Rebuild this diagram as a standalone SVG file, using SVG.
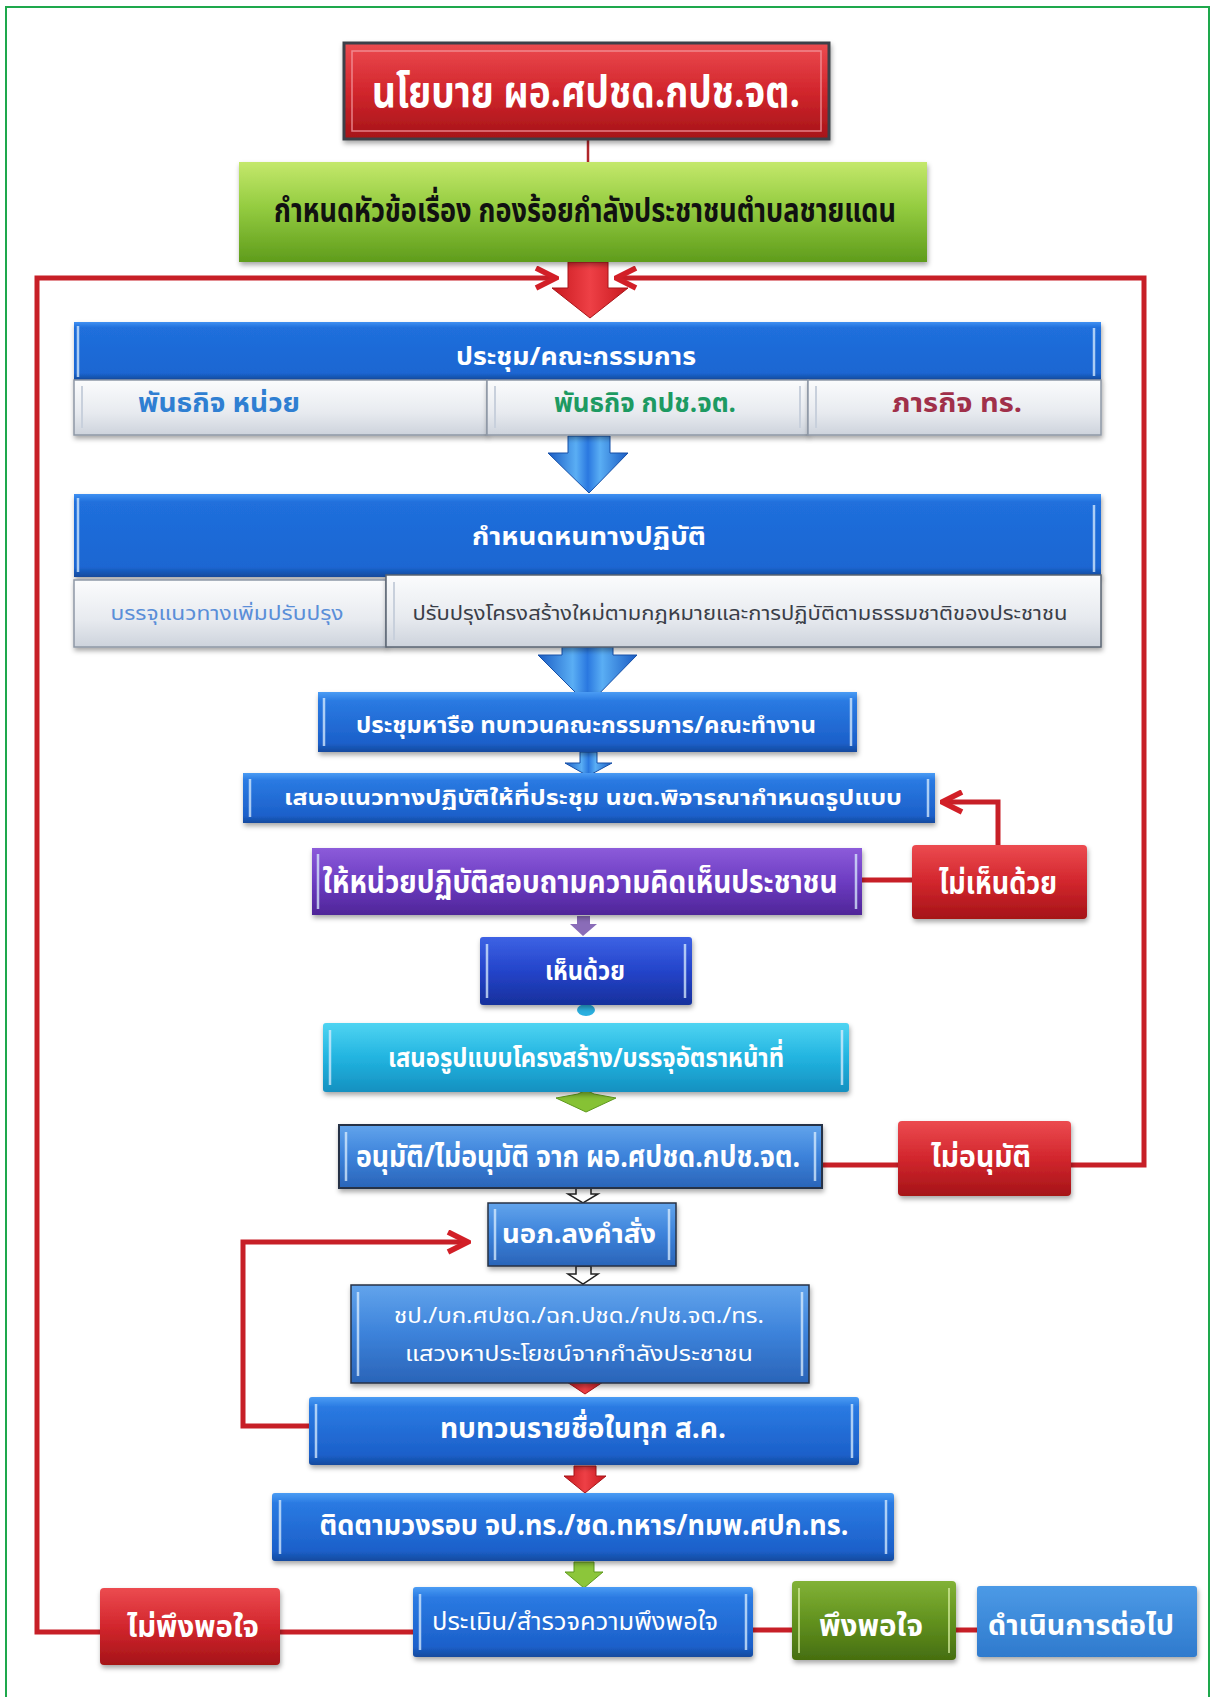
<svg xmlns="http://www.w3.org/2000/svg" width="1211" height="1697" viewBox="0 0 1211 1697">
<style>
text{font-family:"Noto Sans Thai","Noto Sans","DejaVu Sans",sans-serif;font-weight:bold;text-anchor:middle}
.w{fill:#ffffff}
.k{fill:#111111}
.box{filter:url(#sh)}
.hl{stroke:#dbeeff;stroke-width:2.5;opacity:0.75}
.red{fill:none;stroke:#c71f27;stroke-width:5;stroke-linejoin:miter}
.redt{fill:none;stroke:#c71f27;stroke-width:2.5}
</style>
<defs>
<filter id="sh" x="-10%" y="-20%" width="120%" height="150%">
<feDropShadow dx="1" dy="3" stdDeviation="2.5" flood-color="#000" flood-opacity="0.35"/>
</filter>
<linearGradient id="gHead" x1="0" y1="0" x2="0" y2="1">
<stop offset="0" stop-color="#3f90f2"/><stop offset="0.1" stop-color="#206fdc"/><stop offset="0.88" stop-color="#1b66d2"/><stop offset="1" stop-color="#134a9c"/>
</linearGradient>
<linearGradient id="gBlue" x1="0" y1="0" x2="0" y2="1">
<stop offset="0" stop-color="#4a9cf4"/><stop offset="0.15" stop-color="#2a7ae2"/><stop offset="0.85" stop-color="#1c60ca"/><stop offset="1" stop-color="#144a9e"/>
</linearGradient>
<linearGradient id="gRed" x1="0" y1="0" x2="0" y2="1">
<stop offset="0" stop-color="#ec4b50"/><stop offset="0.5" stop-color="#d2262d"/><stop offset="1" stop-color="#a51418"/>
</linearGradient>
<linearGradient id="gGreen" x1="0" y1="0" x2="0" y2="1">
<stop offset="0" stop-color="#c4e86c"/><stop offset="0.45" stop-color="#94cc40"/><stop offset="1" stop-color="#5f9c1c"/>
</linearGradient>
<linearGradient id="gPurple" x1="0" y1="0" x2="0" y2="1">
<stop offset="0" stop-color="#8c5cda"/><stop offset="0.5" stop-color="#6d3cc2"/><stop offset="1" stop-color="#4f2598"/>
</linearGradient>
<linearGradient id="gDBlue" x1="0" y1="0" x2="0" y2="1">
<stop offset="0" stop-color="#3d62e4"/><stop offset="0.5" stop-color="#2444ca"/><stop offset="1" stop-color="#17309c"/>
</linearGradient>
<linearGradient id="gCyan" x1="0" y1="0" x2="0" y2="1">
<stop offset="0" stop-color="#4fd4f2"/><stop offset="0.5" stop-color="#22b4e0"/><stop offset="1" stop-color="#1590c0"/>
</linearGradient>
<linearGradient id="gMBlue" x1="0" y1="0" x2="0" y2="1">
<stop offset="0" stop-color="#62a4ec"/><stop offset="0.5" stop-color="#3c82da"/><stop offset="1" stop-color="#2a64b8"/>
</linearGradient>
<linearGradient id="gOlive" x1="0" y1="0" x2="0" y2="1">
<stop offset="0" stop-color="#82b236"/><stop offset="0.5" stop-color="#62921f"/><stop offset="1" stop-color="#466e10"/>
</linearGradient>
<linearGradient id="gLBlue" x1="0" y1="0" x2="0" y2="1">
<stop offset="0" stop-color="#4c9ae6"/><stop offset="1" stop-color="#2f7acd"/>
</linearGradient>
<linearGradient id="gGray" x1="0" y1="0" x2="0" y2="1">
<stop offset="0" stop-color="#fbfcfd"/><stop offset="0.6" stop-color="#e7eaef"/><stop offset="1" stop-color="#cdd3dc"/>
</linearGradient>
<linearGradient id="gArrowRed" x1="0" y1="0" x2="1" y2="0">
<stop offset="0" stop-color="#c8181e"/><stop offset="0.5" stop-color="#ee4046"/><stop offset="1" stop-color="#c8181e"/>
</linearGradient>
<linearGradient id="gArrowBlue" x1="0" y1="0" x2="1" y2="0">
<stop offset="0" stop-color="#1a5cc4"/><stop offset="0.35" stop-color="#5aaef4"/><stop offset="0.5" stop-color="#2a78e0"/><stop offset="0.65" stop-color="#5aaef4"/><stop offset="1" stop-color="#1a5cc4"/>
</linearGradient>
<marker id="mRed" viewBox="0 0 10 10" refX="9" refY="5" markerWidth="5" markerHeight="5" orient="auto" markerUnits="strokeWidth">
<path d="M1,1 L9,5 L1,9" fill="none" stroke="#d21f27" stroke-width="2.2"/>
</marker>
</defs>

<rect x="0" y="0" width="1211" height="1697" fill="#ffffff"/>
<path d="M6,1697 V7 H1209 V1697" fill="none" stroke="#1ea84c" stroke-width="2"/>

<g id="connectors">
<line x1="588" y1="139" x2="588" y2="163" stroke="#b0262a" stroke-width="2.5"/>
<path class="red" d="M100,1632 H37 V278 H556" marker-end="url(#mRed)"/>
<line class="red" x1="280" y1="1632" x2="413" y2="1632"/>
<path class="red" d="M1071,1165 H1144 V278 H616" marker-end="url(#mRed)"/>
<line class="red" x1="822" y1="1165" x2="898" y2="1165"/>
<line class="red" x1="862" y1="880" x2="912" y2="880"/>
<path class="red" d="M998,845 V802 H942" marker-end="url(#mRed)"/>
<path class="red" d="M309,1426 H243 V1242 H468" marker-end="url(#mRed)"/>
<line class="red" x1="753" y1="1630" x2="792" y2="1630"/>
<line class="red" x1="956" y1="1630" x2="977" y2="1630"/>

<path d="M568,262 H608 V288 H628 L590,318 L552,288 H568 Z" fill="url(#gArrowRed)" stroke="#a81418" stroke-width="1"/>
<path d="M568,436 H610 V453 H628 L589,493 L548,453 H568 Z" fill="url(#gArrowBlue)" stroke="#1650a8" stroke-width="1"/>
<path d="M562,647 H613 V655 H637 L588,705 L538,655 H562 Z" fill="url(#gArrowBlue)" stroke="#1650a8" stroke-width="1"/>
<path d="M580,752 H597 V763 H612 L588,776 L565,763 H580 Z" fill="url(#gArrowBlue)" stroke="#1650a8" stroke-width="1"/>
<path d="M577,916 H590 V924 H597 L583,936 L570,924 H577 Z" fill="#8a6cb8"/>
<ellipse cx="586" cy="1010" rx="9" ry="6" fill="#2ab0e0"/>
<path d="M556,1098 L578,1094 L586,1090 L594,1094 L616,1098 L586,1112 Z" fill="#86c234" stroke="#5e9a1c" stroke-width="1"/>
<path d="M576,1188 H591 V1194 H598 L583,1203 L568,1194 H576 Z" fill="#ffffff" stroke="#222" stroke-width="1.5"/>
<path d="M576,1266 H591 V1274 H598 L583,1284 L568,1274 H576 Z" fill="#ffffff" stroke="#222" stroke-width="1.5"/>
<path d="M576,1374 H595 V1380 H606 L585,1394 L564,1380 H576 Z" fill="url(#gArrowRed)" stroke="#a81418" stroke-width="1"/>
<path d="M574,1466 H596 V1476 H606 L585,1493 L564,1476 H574 Z" fill="url(#gArrowRed)" stroke="#a81418" stroke-width="1"/>
<path d="M574,1562 H594 V1572 H603 L584,1588 L565,1572 H574 Z" fill="#8cc63a" stroke="#5e9a1c" stroke-width="1"/>
</g>

<g id="n-policy">
<rect x="344" y="43" width="485" height="96" fill="url(#gRed)" stroke="#3c4048" stroke-width="3" class="box"/>
<rect x="352" y="51" width="469" height="80" fill="none" stroke="#f39aa0" stroke-width="1.5" opacity="0.8"/>
<text class="w" x="586" y="107" font-size="44" textLength="428" lengthAdjust="spacingAndGlyphs">นโยบาย ผอ.ศปชด.กปช.จต.</text>
</g>

<g id="n-topic">
<rect x="239" y="162" width="688" height="100" fill="url(#gGreen)" class="box"/>
<text class="k" x="585" y="222" font-size="34" textLength="622" lengthAdjust="spacingAndGlyphs">กำหนดหัวข้อเรื่อง กองร้อยกำลังประชาชนตำบลชายแดน</text>
</g>

<g id="n-meeting">
<rect x="74" y="322" width="1027" height="58" fill="url(#gHead)" class="box"/>
<line class="hl" x1="78" y1="326" x2="78" y2="377"/>
<line class="hl" x1="1094" y1="328" x2="1094" y2="376"/>
<text class="w" x="576" y="365" font-size="25" textLength="240" lengthAdjust="spacingAndGlyphs">ประชุม/คณะกรรมการ</text>
</g>
<g id="n-mission-unit">
<rect x="74" y="380" width="413" height="55" fill="url(#gGray)" stroke="#8e98a6" stroke-width="1.5" class="box"/>
<line x1="82" y1="386" x2="82" y2="428" stroke="#c8d0dc" stroke-width="2"/>
<text x="219" y="412" font-size="26" fill="#2f7fd2" textLength="162" lengthAdjust="spacingAndGlyphs">พันธกิจ หน่วย</text>
</g>
<g id="n-mission-kpc">
<rect x="487" y="380" width="321" height="55" fill="url(#gGray)" stroke="#8e98a6" stroke-width="1.5" class="box"/>
<line x1="495" y1="386" x2="495" y2="428" stroke="#c8d0dc" stroke-width="2"/>
<line x1="800" y1="386" x2="800" y2="428" stroke="#c8d0dc" stroke-width="2"/>
<text x="645" y="412" font-size="26" fill="#1d9a62" textLength="182" lengthAdjust="spacingAndGlyphs">พันธกิจ กปช.จต.</text>
</g>
<g id="n-mission-navy">
<rect x="808" y="380" width="293" height="55" fill="url(#gGray)" stroke="#8e98a6" stroke-width="1.5" class="box"/>
<line x1="816" y1="386" x2="816" y2="428" stroke="#c8d0dc" stroke-width="2"/>
<text x="957" y="412" font-size="26" fill="#a0304a" textLength="130" lengthAdjust="spacingAndGlyphs">ภารกิจ ทร.</text>
</g>

<g id="n-course">
<rect x="74" y="494" width="1027" height="83" fill="url(#gHead)" class="box"/>
<line class="hl" x1="78" y1="498" x2="78" y2="572"/>
<line class="hl" x1="1094" y1="505" x2="1094" y2="572"/>
<text class="w" x="589" y="545" font-size="25" textLength="234" lengthAdjust="spacingAndGlyphs">กำหนดหนทางปฏิบัติ</text>
</g>
<g id="n-course-a">
<rect x="74" y="580" width="312" height="67" fill="url(#gGray)" stroke="#8e98a6" stroke-width="1.5" class="box"/>
<text x="227" y="620" font-size="19" fill="#5a8ed8" style="font-weight:normal" textLength="233" lengthAdjust="spacingAndGlyphs">บรรจุแนวทางเพิ่มปรับปรุง</text>
</g>
<g id="n-course-b">
<rect x="386" y="575" width="715" height="72" fill="url(#gGray)" stroke="#5a6472" stroke-width="1.5" class="box"/>
<line x1="394" y1="582" x2="394" y2="640" stroke="#c8d0dc" stroke-width="2"/>
<text x="740" y="620" font-size="19" fill="#3a3e48" style="font-weight:normal" textLength="655" lengthAdjust="spacingAndGlyphs">ปรับปรุงโครงสร้างใหม่ตามกฎหมายและการปฏิบัติตามธรรมชาติของประชาชน</text>
</g>

<g id="n-discuss">
<rect x="318" y="692" width="539" height="60" fill="url(#gBlue)" class="box"/>
<line class="hl" x1="324" y1="698" x2="324" y2="746"/>
<line class="hl" x1="851" y1="698" x2="851" y2="746"/>
<text class="w" x="586" y="733" font-size="23" textLength="460" lengthAdjust="spacingAndGlyphs">ประชุมหารือ ทบทวนคณะกรรมการ/คณะทำงาน</text>
</g>

<g id="n-propose">
<rect x="243" y="773" width="692" height="50" fill="url(#gBlue)" class="box"/>
<line class="hl" x1="250" y1="779" x2="250" y2="817"/>
<line class="hl" x1="928" y1="779" x2="928" y2="817"/>
<text class="w" x="593" y="805" font-size="22" textLength="618" lengthAdjust="spacingAndGlyphs">เสนอแนวทางปฏิบัติให้ที่ประชุม  นขต.พิจารณากำหนดรูปแบบ</text>
</g>

<g id="n-survey">
<rect x="312" y="848" width="550" height="67" fill="url(#gPurple)" class="box"/>
<line class="hl" x1="318" y1="854" x2="318" y2="909"/>
<line class="hl" x1="856" y1="854" x2="856" y2="909"/>
<text class="w" x="580" y="893" font-size="32" textLength="515" lengthAdjust="spacingAndGlyphs">ให้หน่วยปฏิบัติสอบถามความคิดเห็นประชาชน</text>
</g>

<g id="n-disagree">
<rect x="912" y="845" width="175" height="74" rx="4" fill="url(#gRed)" class="box"/>
<text class="w" x="998" y="894" font-size="32" textLength="118" lengthAdjust="spacingAndGlyphs">ไม่เห็นด้วย</text>
</g>

<g id="n-agree">
<rect x="480" y="937" width="212" height="68" rx="3" fill="url(#gDBlue)" class="box"/>
<line class="hl" x1="487" y1="944" x2="487" y2="998"/>
<line class="hl" x1="685" y1="944" x2="685" y2="998"/>
<text class="w" x="585" y="980" font-size="27" textLength="80" lengthAdjust="spacingAndGlyphs">เห็นด้วย</text>
</g>

<g id="n-structure">
<rect x="323" y="1023" width="526" height="69" rx="3" fill="url(#gCyan)" class="box"/>
<line class="hl" x1="330" y1="1030" x2="330" y2="1085"/>
<line class="hl" x1="842" y1="1030" x2="842" y2="1085"/>
<text class="w" x="586" y="1067" font-size="27" textLength="396" lengthAdjust="spacingAndGlyphs">เสนอรูปแบบโครงสร้าง/บรรจุอัตราหน้าที่</text>
</g>

<g id="n-approve">
<rect x="339" y="1125" width="483" height="63" fill="url(#gMBlue)" stroke="#263246" stroke-width="2" class="box"/>
<line class="hl" x1="346" y1="1132" x2="346" y2="1181"/>
<line class="hl" x1="815" y1="1132" x2="815" y2="1181"/>
<text class="w" x="578" y="1167" font-size="30" textLength="444" lengthAdjust="spacingAndGlyphs">อนุมัติ/ไม่อนุมัติ  จาก ผอ.ศปชด.กปช.จต.</text>
</g>

<g id="n-reject">
<rect x="898" y="1121" width="173" height="75" rx="4" fill="url(#gRed)" class="box"/>
<text class="w" x="981" y="1167" font-size="30" textLength="100" lengthAdjust="spacingAndGlyphs">ไม่อนุมัติ</text>
</g>

<g id="n-order">
<rect x="488" y="1203" width="188" height="63" fill="url(#gMBlue)" stroke="#263246" stroke-width="1.5" class="box"/>
<line class="hl" x1="495" y1="1209" x2="495" y2="1260"/>
<line class="hl" x1="669" y1="1209" x2="669" y2="1260"/>
<text class="w" x="579" y="1243" font-size="26" textLength="154" lengthAdjust="spacingAndGlyphs">นอภ.ลงคำสั่ง</text>
</g>

<g id="n-exploit">
<rect x="351" y="1285" width="458" height="98" fill="url(#gMBlue)" stroke="#263246" stroke-width="1.5" class="box"/>
<line class="hl" x1="358" y1="1292" x2="358" y2="1376"/>
<line class="hl" x1="802" y1="1292" x2="802" y2="1376"/>
<text class="w" x="579" y="1323" font-size="22" style="font-weight:normal" textLength="370" lengthAdjust="spacingAndGlyphs">ชป./บก.ศปชด./ฉก.ปชด./กปช.จต./ทร.</text>
<text class="w" x="579" y="1361" font-size="22" style="font-weight:normal" textLength="348" lengthAdjust="spacingAndGlyphs">แสวงหาประโยชน์จากกำลังประชาชน</text>
</g>

<g id="n-review">
<rect x="309" y="1397" width="550" height="68" rx="3" fill="url(#gBlue)" class="box"/>
<line class="hl" x1="316" y1="1404" x2="316" y2="1458"/>
<line class="hl" x1="852" y1="1404" x2="852" y2="1458"/>
<text class="w" x="583" y="1438" font-size="28" textLength="286" lengthAdjust="spacingAndGlyphs">ทบทวนรายชื่อในทุก  ส.ค.</text>
</g>

<g id="n-follow">
<rect x="272" y="1493" width="622" height="68" rx="3" fill="url(#gBlue)" class="box"/>
<line class="hl" x1="280" y1="1500" x2="280" y2="1554"/>
<line class="hl" x1="886" y1="1500" x2="886" y2="1554"/>
<text class="w" x="584" y="1535" font-size="28" textLength="529" lengthAdjust="spacingAndGlyphs">ติดตามวงรอบ  จป.ทร./ชด.ทหาร/ทมพ.ศปก.ทร.</text>
</g>

<g id="n-unsatisfied">
<rect x="100" y="1588" width="180" height="77" rx="4" fill="url(#gRed)" class="box"/>
<text class="w" x="193" y="1637" font-size="30" textLength="132" lengthAdjust="spacingAndGlyphs">ไม่พึงพอใจ</text>
</g>

<g id="n-evaluate">
<rect x="413" y="1587" width="340" height="70" rx="3" fill="url(#gBlue)" class="box"/>
<line class="hl" x1="420" y1="1594" x2="420" y2="1650"/>
<line class="hl" x1="746" y1="1594" x2="746" y2="1650"/>
<text class="w" x="575" y="1630" font-size="25" style="font-weight:normal" textLength="286" lengthAdjust="spacingAndGlyphs">ประเมิน/สำรวจความพึงพอใจ</text>
</g>

<g id="n-satisfied">
<rect x="792" y="1581" width="164" height="79" rx="4" fill="url(#gOlive)" class="box"/>
<line x1="799" y1="1588" x2="799" y2="1653" stroke="#d8f0a0" stroke-width="2" opacity="0.7"/>
<line x1="949" y1="1588" x2="949" y2="1653" stroke="#d8f0a0" stroke-width="2" opacity="0.7"/>
<text class="w" x="871" y="1636" font-size="30" textLength="104" lengthAdjust="spacingAndGlyphs">พึงพอใจ</text>
</g>

<g id="n-continue">
<rect x="977" y="1586" width="220" height="71" rx="3" fill="url(#gLBlue)" class="box"/>
<text class="w" x="1081" y="1635" font-size="29" textLength="186" lengthAdjust="spacingAndGlyphs">ดำเนินการต่อไป</text>
</g>
</svg>
